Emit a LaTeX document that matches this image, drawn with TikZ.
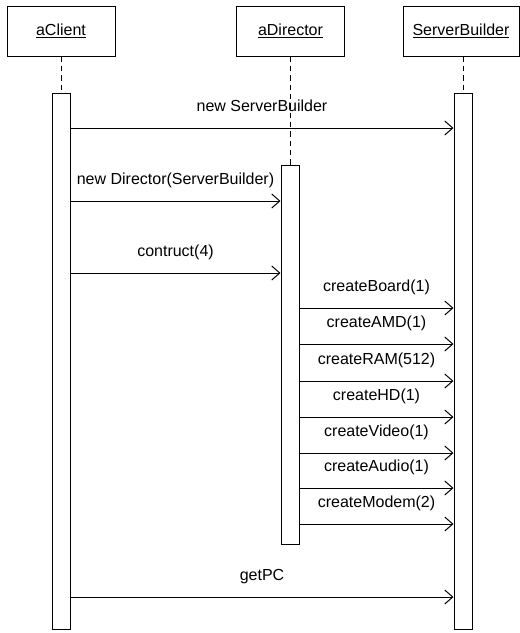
\documentclass[tikz,border=0pt]{standalone}
\usepackage{fontspec}
\setmainfont{Liberation Sans}
\usetikzlibrary{arrows.meta}

\begin{document}
\begin{tikzpicture}[
    x=0.75pt, y=-0.75pt,
    every node/.style={font=\fontsize{12}{14}\selectfont},
    object/.style={draw, line width=0.75pt, minimum width=81pt,
        minimum height=37.5pt, inner sep=0pt},
    activation/.style={draw, fill=white, line width=0.75pt,
        minimum width=13.5pt, inner sep=0pt},
    lifeline/.style={draw, line width=0.75pt, dash pattern=on 4pt off 3pt},
    message/.style={draw, line width=0.75pt,
        -{Straight Barb[length=6pt, width=10.5pt]}},
    msglbl/.style={midway, yshift=15.75pt, text height=1.5ex, text depth=0.25ex}
]
\useasboundingbox (0,0) rectangle (520,633);
\node[object] (client) at (61, 31) {\underline{aClient}};
\node[object] (director) at (290.5, 31) {\underline{aDirector}};
\node[object, minimum width=87pt] (builder) at (461, 31) {\underline{ServerBuilder}};
\node[activation, minimum height=402pt] (cbar) at (61, 361) {};
\node[activation, minimum height=284.25pt] (dbar) at (290, 354.5) {};
\node[activation, minimum height=402pt] (bbar) at (463, 361) {};
\draw[lifeline] (cbar.north |- client.south) -- (cbar.north);
\draw[lifeline] (dbar.north |- director.south) -- (dbar.north);
\draw[lifeline] (bbar.north |- builder.south) -- (bbar.north);
\draw[message] (cbar.east |- 0,128) -- node[msglbl]{new ServerBuilder} (bbar.west |- 0,128);
\draw[message] (cbar.east |- 0,201) -- node[msglbl]{new Director(ServerBuilder)} (dbar.west |- 0,201);
\draw[message] (cbar.east |- 0,273) -- node[msglbl]{contruct(4)} (dbar.west |- 0,273);
\draw[message] (dbar.east |- 0,308) -- node[msglbl]{createBoard(1)} (bbar.west |- 0,308);
\draw[message] (dbar.east |- 0,344) -- node[msglbl]{createAMD(1)} (bbar.west |- 0,344);
\draw[message] (dbar.east |- 0,381) -- node[msglbl]{createRAM(512)} (bbar.west |- 0,381);
\draw[message] (dbar.east |- 0,417) -- node[msglbl]{createHD(1)} (bbar.west |- 0,417);
\draw[message] (dbar.east |- 0,453) -- node[msglbl]{createVideo(1)} (bbar.west |- 0,453);
\draw[message] (dbar.east |- 0,488) -- node[msglbl]{createAudio(1)} (bbar.west |- 0,488);
\draw[message] (dbar.east |- 0,524) -- node[msglbl]{createModem(2)} (bbar.west |- 0,524);
\draw[message] (cbar.east |- 0,597) -- node[msglbl]{getPC} (bbar.west |- 0,597);
\end{tikzpicture}
\end{document}
